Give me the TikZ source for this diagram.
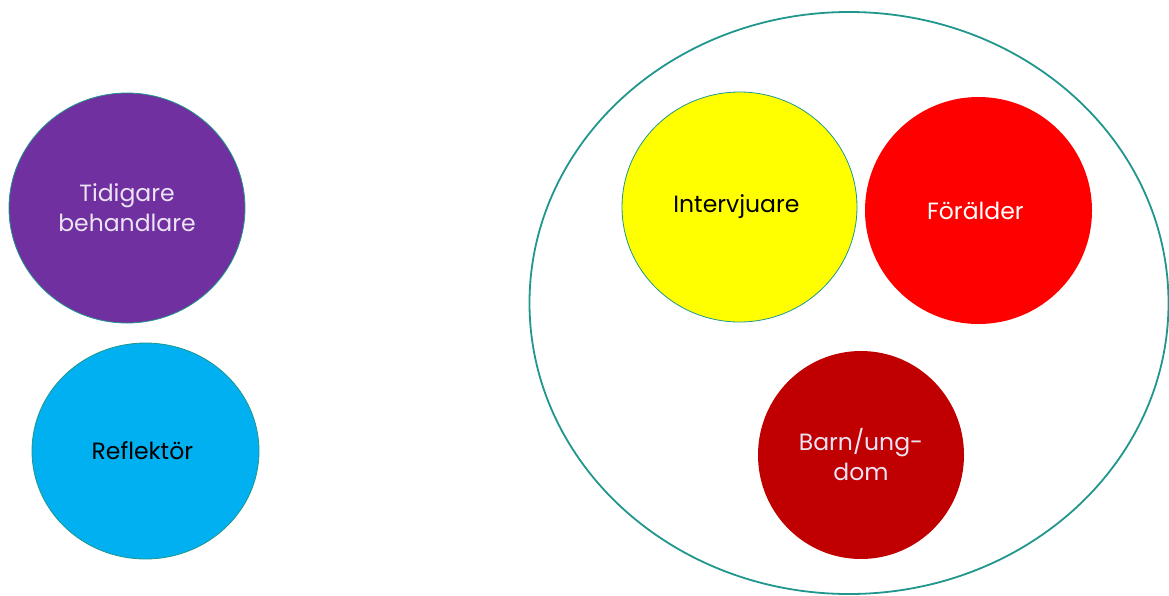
\documentclass[tikz,border=0pt]{standalone}
\usepackage{fontspec}
\setmainfont{Poppins}
\usetikzlibrary{shapes.geometric}
\definecolor{ringteal}{RGB}{32,150,140}
\definecolor{rolepurple}{RGB}{112,48,160}
\definecolor{rolecyan}{RGB}{0,176,240}
\definecolor{roleyellow}{RGB}{255,255,0}
\definecolor{rolered}{RGB}{255,0,0}
\definecolor{roledarkred}{RGB}{192,0,0}
\definecolor{lighttext}{RGB}{236,228,244}

\tikzset{
    role/.style={ellipse, draw=ringteal, line width=0.8pt, inner sep=0pt, align=center,
        font=\fontsize{23.5}{30}\selectfont}
}

\begin{document}
\begin{tikzpicture}[x=1pt, y=-1pt]
    \useasboundingbox (0,0) rectangle (1169,595);

    % Tidigare behandlare
    \node[role, fill=rolepurple, text=lighttext, minimum width=236pt, minimum height=230pt] (tidigare) at (127,208) {
        Tidigare \\ behandlare
    };

    % Reflektor
    \node[role, fill=rolecyan, text=black, minimum width=227pt, minimum height=216pt] (reflektor) at (145.5,451) {
        Reflektör
    };

    % Ring round the group
    \node[ellipse, draw=ringteal, line width=1.8pt, inner sep=0pt, minimum width=639pt, minimum height=582pt] (ring) at (849,303) {};

    % Intervjuare
    \node[role, fill=roleyellow, text=black, minimum width=235pt, minimum height=230pt] (intervjuare) at (739.5,207) {
        Intervjuare
    };

    % Foralder
    \node[role, draw=none, fill=rolered, text=white, minimum width=227pt, minimum height=227pt] (foralder) at (978.5,210.5) {
        Förälder
    };

    % Barn/ungdom
    \node[role, draw=none, fill=roledarkred, text=lighttext, minimum width=206pt, minimum height=208pt] (barn) at (861,455) {
        Barn/ung- \\ dom
    };
\end{tikzpicture}
\end{document}
